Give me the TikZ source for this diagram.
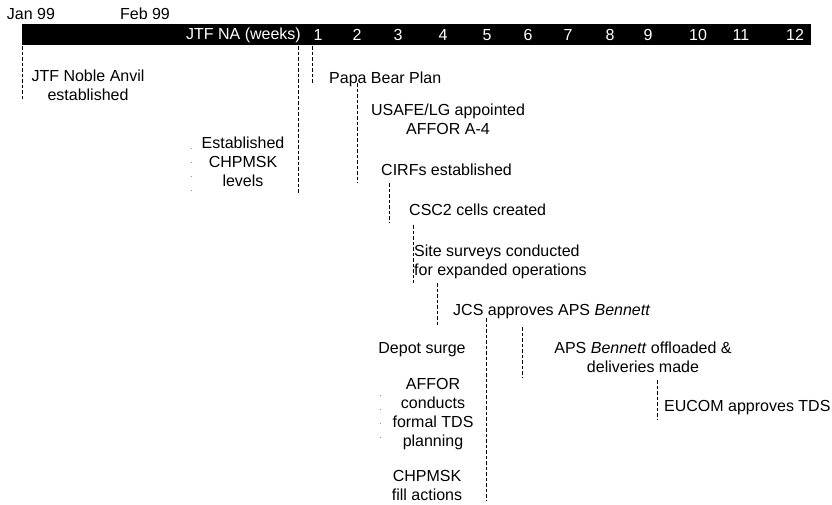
\documentclass[tikz,border=0pt]{standalone}
\usepackage{fontspec}
\setmainfont{Liberation Sans}
\usepackage{tikz}
\usetikzlibrary{positioning}

\begin{document}
\begin{tikzpicture}[
    x=1pt, y=-1pt,
    evt/.style={font=\fontsize{16}{19}\selectfont, align=center, inner sep=0pt},
    wk/.style={font=\fontsize{16}{19}\selectfont, text=white, inner sep=0pt},
    leader/.style={draw=black, line width=1pt, dash pattern=on 3.5pt off 2pt},
    faint/.style={draw=black!45, line width=0.7pt, dash pattern=on 1pt off 13pt}
]
\useasboundingbox (0,0) rectangle (832,504);
\fill[black] (22,24) rectangle (811,45);
\node[evt] (jan) at (31,14) {Jan 99};
\node[evt] (feb) at (145,14) {Feb 99};
\node[wk, anchor=east] (na) at (301,35) {JTF NA (weeks)};
\foreach \n/\x in {1/318,2/357,3/398,4/443,5/487,6/528,7/568,8/610,9/648,10/698,11/741,12/795}
    \node[wk] (w\n) at (\x,35) {\n};

\node[evt] (jtf) at (88,85) {JTF Noble Anvil\\established};
\node[evt, anchor=west] (papa) at (329,79) {Papa Bear Plan};
\node[evt] (usafe) at (448,119) {USAFE/LG appointed\\AFFOR A-4};
\node[evt] (lvl) at (243,162) {Established\\CHPMSK\\levels};
\node[evt, anchor=west] (cirf) at (381,170) {CIRFs established};
\node[evt, anchor=west] (csc) at (409,210) {CSC2 cells created};
\node[evt, anchor=west, align=left] (site) at (414,262) {Site surveys conducted\\for expanded operations};
\node[evt, anchor=west] (jcs) at (453,312) {JCS approves APS \textit{Bennett}};
\node[evt] (depot) at (422,350) {Depot surge};
\node[evt] (offl) at (643,357) {APS \textit{Bennett} offloaded \&\\deliveries made};
\node[evt] (tds) at (433,414) {AFFOR\\conducts\\formal TDS\\planning};
\node[evt, anchor=west] (eucom) at (664,408) {EUCOM approves TDS};
\node[evt] (fill) at (427,485) {CHPMSK\\fill actions};

\draw[leader] (22,46) -- (22,100);
\draw[leader] (298,46) -- (298,193);
\draw[leader] (312,46) -- (312,83);
\draw[leader] (357,83) -- (357,183);
\draw[leader] (389,183) -- (389,223);
\draw[leader] (413,225) -- (413,283);
\draw[leader] (437,283) -- (437,325);
\draw[leader] (486,318) -- (486,500);
\draw[leader] (522,327) -- (522,378);
\draw[leader] (657,380) -- (657,420);
\draw[faint] (191,148) -- (191,192);
\draw[faint] (380,395) -- (380,446);
\end{tikzpicture}
\end{document}
